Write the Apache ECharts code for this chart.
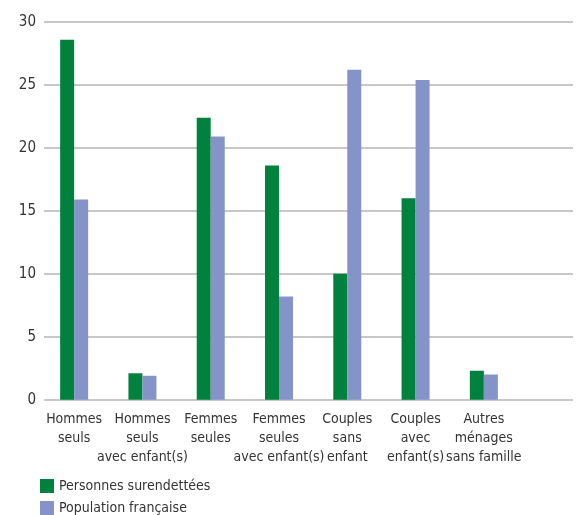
<!DOCTYPE html>
<html>
<head>
<meta charset="utf-8">
<script src="https://cdn.jsdelivr.net/npm/echarts@6/dist/echarts.min.js"></script>
<style>
  html, body { margin: 0; padding: 0; background: #fff; }
  #chart { width: 579px; height: 515px; }
</style>
</head>
<body>
<div id="chart"></div>
<script>
// catégories (axe x)
var categories = [
    'Hommes\nseuls',
    'Hommes\nseuls\navec enfant(s)',
    'Femmes\nseules',
    'Femmes\nseules\navec enfant(s)',
    'Couples\nsans\nenfant',
    'Couples\navec\nenfant(s)',
    'Autres\nménages\nsans famille'
];
var surendettees = [28.6, 2.1, 22.4, 18.6, 10.0, 16.0, 2.3];   // Personnes surendettées
var population = [15.9, 1.9, 20.9, 8.2, 26.2, 25.4, 2.0];      // Population française
var yTicks = [0, 30, 5];  // min, max, pas

var font = "'DejaVu Sans Condensed', sans-serif";
var textColor = '#333';

var chart = echarts.init(document.getElementById('chart'));
chart.setOption({
    animation: false,
    textStyle: { fontFamily: font },
    legend: {
        orient: 'vertical',
        left: 40,
        top: 479,
        height: 80,
        padding: 0,
        itemWidth: 14,
        itemHeight: 14,
        itemGap: 8,
        icon: 'rect',
        textStyle: { fontFamily: font, fontSize: 14, lineHeight: 14, color: textColor },
        data: ['Personnes surendettées', 'Population française']
    },
    grid: [
        // barres
        { left: 40, right: 61, top: 22, bottom: 115.3 },
        // lignes de grille
        { left: 44, right: 6, top: 22, bottom: 115.3 }
    ],
    xAxis: [
        {
            type: 'category',
            gridIndex: 0,
            data: categories,
            axisLine: { show: false },
            axisTick: { show: false },
            axisLabel: {
                interval: 0,
                margin: 10,
                fontFamily: font,
                fontSize: 14,
                lineHeight: 19,
                color: textColor
            }
        },
        { type: 'value', gridIndex: 1, show: false }
    ],
    yAxis: [
        { type: 'value', gridIndex: 0, min: yTicks[0], max: yTicks[1], interval: yTicks[2], show: false },
        {
            type: 'value',
            gridIndex: 1,
            min: yTicks[0],
            max: yTicks[1],
            interval: yTicks[2],
            axisLine: { show: false },
            axisTick: { show: false },
            splitLine: { lineStyle: { color: '#b4b4b4', width: 1.5 } },
            axisLabel: { margin: 8, fontFamily: font, fontSize: 15, color: textColor }
        }
    ],
    series: [
        {
            name: 'Personnes surendettées',
            type: 'bar',
            xAxisIndex: 0,
            yAxisIndex: 0,
            barWidth: 14,
            barGap: 0,
            itemStyle: { color: '#00813d' },
            data: surendettees
        },
        {
            name: 'Population française',
            type: 'bar',
            xAxisIndex: 0,
            yAxisIndex: 0,
            barWidth: 14,
            barGap: 0,
            itemStyle: { color: '#8493c8' },
            data: population
        }
    ]
});
</script>
</body>
</html>
